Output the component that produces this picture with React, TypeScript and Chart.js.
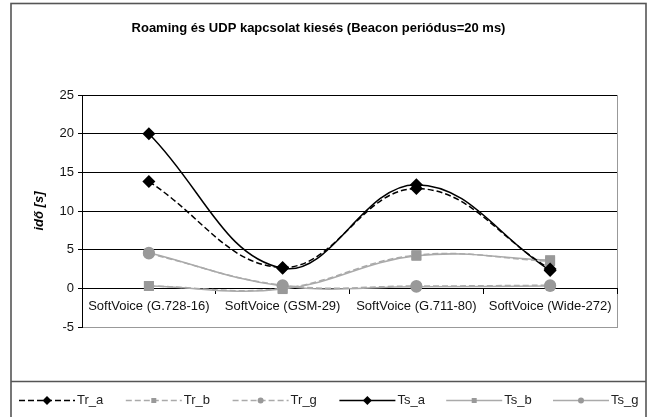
import { useEffect, useRef } from "react";
import { Chart, registerables } from "chart.js";

Chart.register(...registerables);

const categories = [
  "SoftVoice (G.728-16)",
  "SoftVoice (GSM-29)",
  "SoftVoice (G.711-80)",
  "SoftVoice (Wide-272)",
];
const seriesNames = ["Tr_a", "Tr_b", "Tr_g", "Ts_a", "Ts_b", "Ts_g"];
const trA = [13.8, 2.7, 12.9, 2.5];
const trB = [0.3, 0.0, 4.3, 3.5];
const trG = [4.5, 0.4, 0.3, 0.4];
const tsA = [20, 2.6, 13.4, 2.3];
const tsB = [0.3, -0.1, 4.2, 3.65];
const tsG = [4.6, 0.3, 0.2, 0.3];
const yMin = -5;
const yMax = 25;
const yStep = 5;
const titleText = "Roaming és UDP kapcsolat kiesés (Beacon periódus=20 ms)";
const yTitle = "idő [s]";

function marker(ctx: CanvasRenderingContext2D, style: string, x: number, y: number, r: number) {
  ctx.beginPath();
  if (style === "rectRot") {
    ctx.moveTo(x - r, y);
    ctx.lineTo(x, y - r);
    ctx.lineTo(x + r, y);
    ctx.lineTo(x, y + r);
    ctx.closePath();
  } else if (style === "rect") {
    ctx.rect(x - r, y - r, 2 * r, 2 * r);
  } else {
    ctx.arc(x, y, r, 0, Math.PI * 2);
  }
  ctx.fill();
}

const framePlugin = {
  id: "frame",
  beforeDraw(chart: any) {
    const { ctx, chartArea } = chart;
    ctx.save();
    ctx.fillStyle = "#fff";
    ctx.fillRect(0, 0, chart.width, chart.height);
    ctx.strokeStyle = "#555";
    ctx.lineWidth = 1.6;
    ctx.strokeRect(11, 3.5, 635, 440);
    ctx.beginPath();
    ctx.moveTo(11, 381.5);
    ctx.lineTo(646, 381.5);
    ctx.stroke();
    ctx.strokeStyle = "#999";
    ctx.lineWidth = 1;
    ctx.strokeRect(
      Math.round(chartArea.left) + 0.5,
      Math.round(chartArea.top) + 0.5,
      Math.round(chartArea.right - chartArea.left),
      Math.round(chartArea.bottom - chartArea.top)
    );
    ctx.restore();
  },
  afterDraw(chart: any) {
    const { ctx } = chart;
    const y = 400;
    chart.data.datasets.forEach((d: any, i: number) => {
      const x0 = 19 + i * 106.8;
      ctx.save();
      ctx.strokeStyle = d.borderColor;
      ctx.lineWidth = d.borderWidth;
      ctx.setLineDash(d.borderDash || []);
      ctx.beginPath();
      ctx.moveTo(x0, y + 0.5);
      ctx.lineTo(x0 + 56, y + 0.5);
      ctx.stroke();
      ctx.setLineDash([]);
      ctx.fillStyle = d.pointBackgroundColor;
      const r = d.pointStyle === "rectRot" ? 4.5 : d.pointStyle === "rect" ? 2.5 : 3;
      marker(ctx, d.pointStyle, x0 + 28, y + 0.5, r);
      ctx.fillStyle = "#222";
      ctx.font = "13px Arial";
      ctx.textBaseline = "middle";
      ctx.textAlign = "left";
      ctx.fillText(d.label, x0 + 58, y);
      ctx.restore();
    });
  },
};

export default function App() {
  const ref = useRef<HTMLCanvasElement | null>(null);
  useEffect(() => {
    document.body.style.margin = "0";
    const canvas = ref.current;
    if (!canvas) return;
    const black = "#000";
    const gray = "#999";
    const grayLine = "#aaa";
    const mk = (label: string, data: number[], color: string, lineColor: string, dash: number[], style: string, radius: number, width: number) => ({
      label,
      data,
      borderColor: lineColor,
      borderWidth: width,
      borderDash: dash,
      pointStyle: style,
      pointRadius: radius,
      pointBorderWidth: 0,
      pointBackgroundColor: color,
      pointBorderColor: color,
      tension: 0.4,
      fill: false,
    });
    const chart = new Chart(canvas, {
      type: "line",
      data: {
        labels: categories,
        datasets: [
          mk(seriesNames[0], trA, black, black, [6, 3], "rectRot", 6.5, 1.5),
          mk(seriesNames[1], trB, gray, grayLine, [6, 3], "rect", 7, 1.5),
          mk(seriesNames[2], trG, gray, grayLine, [6, 3], "circle", 6, 1.5),
          mk(seriesNames[3], tsA, black, black, [], "rectRot", 6.5, 1.5),
          mk(seriesNames[4], tsB, gray, grayLine, [], "rect", 7, 1.5),
          mk(seriesNames[5], tsG, gray, grayLine, [], "circle", 6, 1.5),
        ],
      },
      options: {
        responsive: false,
        animation: false,
        devicePixelRatio: 1,
        layout: { padding: { left: 20, right: 36, top: 0, bottom: 90 } },
        plugins: {
          legend: { display: false },
          tooltip: { enabled: false },
          title: {
            display: true,
            text: titleText,
            color: "#000",
            font: { family: "Arial", size: 13, weight: "bold" },
            padding: { top: 21, bottom: 58.4 },
          },
        },
        scales: {
          x: {
            type: "category",
            position: { y: 0 } as any,
            offset: true,
            afterFit: (s: any) => {
              s.height = 0;
            },
            grid: {
              display: true,
              drawOnChartArea: false,
              drawTicks: true,
              tickLength: 5,
              offset: true,
              color: black,
              tickColor: black,
            },
            border: { color: black, width: 1 },
            ticks: {
              color: "#111",
              font: { family: "Arial", size: 13 },
              maxRotation: 0,
              minRotation: 0,
              autoSkip: false,
              padding: 5,
            },
          },
          y: {
            min: yMin,
            max: yMax,
            afterFit: (s: any) => {
              s.width = 62;
            },
            ticks: {
              stepSize: yStep,
              color: "#111",
              font: { family: "Arial", size: 13 },
              padding: 4,
            },
            grid: {
              color: (c: any) => (c.tick && c.tick.value === yMin ? "rgba(0,0,0,0)" : black),
              tickColor: black,
              tickLength: 4,
              lineWidth: 1,
            },
            border: { color: black, width: 1 },
            title: {
              display: true,
              text: yTitle,
              color: "#000",
              font: { family: "Arial", size: 13, weight: "bold", style: "italic" },
              padding: { top: 12, bottom: 0 },
            },
          },
        },
      },
      plugins: [framePlugin],
    } as any);
    return () => chart.destroy();
  }, []);
  return (
    <div style={{ width: 653, height: 417 }}>
      <canvas ref={ref} width={653} height={417} style={{ display: "block" }} />
    </div>
  );
}
